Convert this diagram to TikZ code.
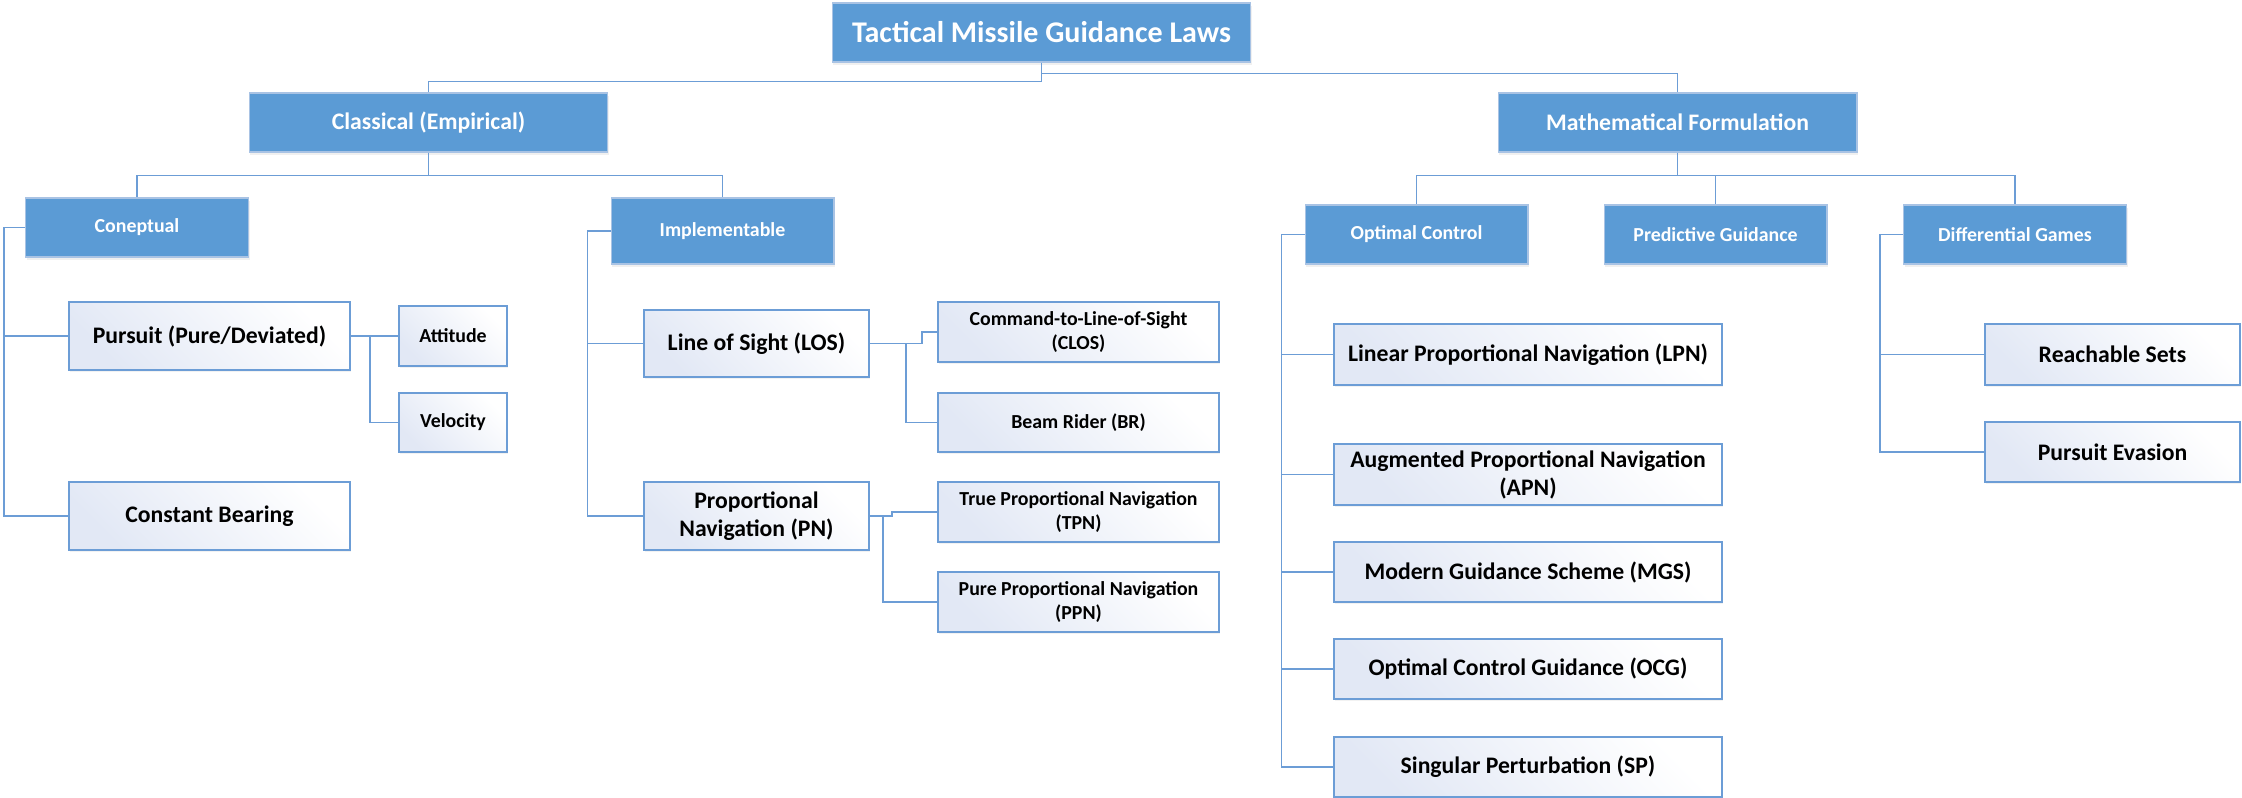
\documentclass[tikz,border=0pt]{standalone}
\usepackage{fontspec}
\setmainfont{Carlito}
\usetikzlibrary{shadows}
\definecolor{boxblue}{HTML}{5B9BD5}
\definecolor{rimblue}{HTML}{A9C3E4}
\definecolor{edgeblue}{HTML}{6C9DD6}
\definecolor{tintblue}{HTML}{E2E8F5}
\begin{document}
\begin{tikzpicture}[x=0.02cm,y=-0.02cm,
    base/.style={inner sep=0pt, align=center},
    bluebox/.style={base, draw=rimblue, line width=0.6pt, fill=boxblue, text=white,
        drop shadow={opacity=0.12, shadow xshift=0.6pt, shadow yshift=-1.6pt}},
    whitebox/.style={base, draw=edgeblue, line width=0.7pt, left color=tintblue, right color=white, shading angle=135,
        drop shadow={opacity=0.10, shadow xshift=0.4pt, shadow yshift=-1.2pt}},
    titlebox/.style={bluebox, minimum width=8.38cm, minimum height=1.18cm, font=\bfseries\fontsize{17.1}{20}\selectfont},
    groupbox/.style={bluebox, minimum width=7.18cm, minimum height=1.18cm, font=\bfseries\fontsize{13.5}{16}\selectfont},
    typebox/.style={bluebox, minimum width=4.46cm, minimum height=1.18cm, font=\bfseries\fontsize{11.3}{13.7}\selectfont},
    lawbox/.style={whitebox, minimum height=1.2cm, font=\bfseries\fontsize{13.5}{15.9}\selectfont},
    subbox/.style={whitebox, minimum height=1.2cm, font=\bfseries\fontsize{11.3}{13.7}\selectfont},
    link/.style={draw=edgeblue, line width=1.1pt}]
\useasboundingbox (0,0) rectangle (2242,798);

% levels 0 to 2
\draw (1041.5,32.5) node[titlebox] (title) {Tactical Missile Guidance Laws};
\draw (428.5,122.5) node[groupbox] (classical) {Classical (Empirical)};
\draw (1677.5,122.5) node[groupbox] (math) {Mathematical Formulation};
\draw (137,227.5) node[typebox] (coneptual) {Coneptual};
\draw (722.5,231) node[typebox, minimum height=1.32cm] (implementable) {Implementable};
\draw (1416.5,234.5) node[typebox] (optimal) {Optimal Control};
\draw (1715.5,234.5) node[typebox] (predictive) {Predictive Guidance};
\draw (2015,234.5) node[typebox] (differential) {Differential Games};

% classical leaves
\draw (209.5,336) node[lawbox, minimum width=5.62cm, minimum height=1.36cm] (pursuit) {Pursuit (Pure/Deviated)};
\draw (209.5,516) node[lawbox, minimum width=5.62cm, minimum height=1.36cm] (constant) {Constant Bearing};
\draw (453,336) node[subbox, minimum width=2.16cm] (attitude) {Attitude};
\draw (453,422.5) node[subbox, minimum width=2.16cm, minimum height=1.18cm] (velocity) {Velocity};
\draw (756.5,343.5) node[lawbox, minimum width=4.5cm, minimum height=1.34cm] (los) {Line of Sight (LOS)};
\draw (756.5,516) node[lawbox, minimum width=4.5cm, minimum height=1.36cm] (pn) {Proportional\\Navigation (PN)};
\draw (1078.5,332) node[subbox, minimum width=5.62cm] (clos) {Command-to-Line-of-Sight\\(CLOS)};
\draw (1078.5,422.5) node[subbox, minimum width=5.62cm, minimum height=1.18cm] (br) {Beam Rider (BR)};
\draw (1078.5,512) node[subbox, minimum width=5.62cm] (tpn) {True Proportional Navigation\\(TPN)};
\draw (1078.5,602) node[subbox, minimum width=5.62cm] (ppn) {Pure Proportional Navigation\\(PPN)};

% mathematical leaves
\draw (1528,354.5) node[lawbox, minimum width=7.76cm, minimum height=1.22cm] (lpn) {Linear Proportional Navigation (LPN)};
\draw (1528,474.5) node[lawbox, minimum width=7.76cm, minimum height=1.22cm] (apn) {Augmented Proportional Navigation\\(APN)};
\draw (1528,572) node[lawbox, minimum width=7.76cm] (mgs) {Modern Guidance Scheme (MGS)};
\draw (1528,669) node[lawbox, minimum width=7.76cm] (ocg) {Optimal Control Guidance (OCG)};
\draw (1528,767) node[lawbox, minimum width=7.76cm] (sp) {Singular Perturbation (SP)};
\draw (2112.5,354.5) node[lawbox, minimum width=5.1cm, minimum height=1.22cm] (reach) {Reachable Sets};
\draw (2112.5,452) node[lawbox, minimum width=5.1cm] (evasion) {Pursuit Evasion};

% connectors
\draw[link] (title.south) -- ++(0,19) -| (classical.north);
\draw[link] (title.south) ++(0,11) -| (math.north);
\draw[link] (classical.south) -- ++(0,23) -| (coneptual.north);
\draw[link] (classical.south) ++(0,23) -| (implementable.north);
\draw[link] (math.south) -- ++(0,23) -| (optimal.north);
\draw[link] (math.south) ++(0,23) -| (predictive.north);
\draw[link] (math.south) ++(0,23) -| (differential.north);
\draw[link] (coneptual.west) -- ++(-21,0) |- (pursuit.west);
\draw[link] (coneptual.west) ++(-21,0) |- (constant.west);
\draw[link] (pursuit.east) -- (attitude.west);
\draw[link] (pursuit.east) ++(19,0) |- (velocity.west);
\draw[link] (implementable.west) -- ++(-23,0) |- (los.west);
\draw[link] (implementable.west) ++(-23,0) |- (pn.west);
\draw[link] (los.east) -- ++(52,0) |- (clos.west);
\draw[link] (los.east) ++(36,0) |- (br.west);
\draw[link] (pn.east) -- ++(22,0) |- (tpn.west);
\draw[link] (pn.east) ++(13,0) |- (ppn.west);
\foreach \law in {lpn,apn,mgs,ocg,sp}
    \draw[link] (optimal.west) -- ++(-23,0) |- (\law.west);
\foreach \game in {reach,evasion}
    \draw[link] (differential.west) -- ++(-23,0) |- (\game.west);
\end{tikzpicture}
\end{document}
